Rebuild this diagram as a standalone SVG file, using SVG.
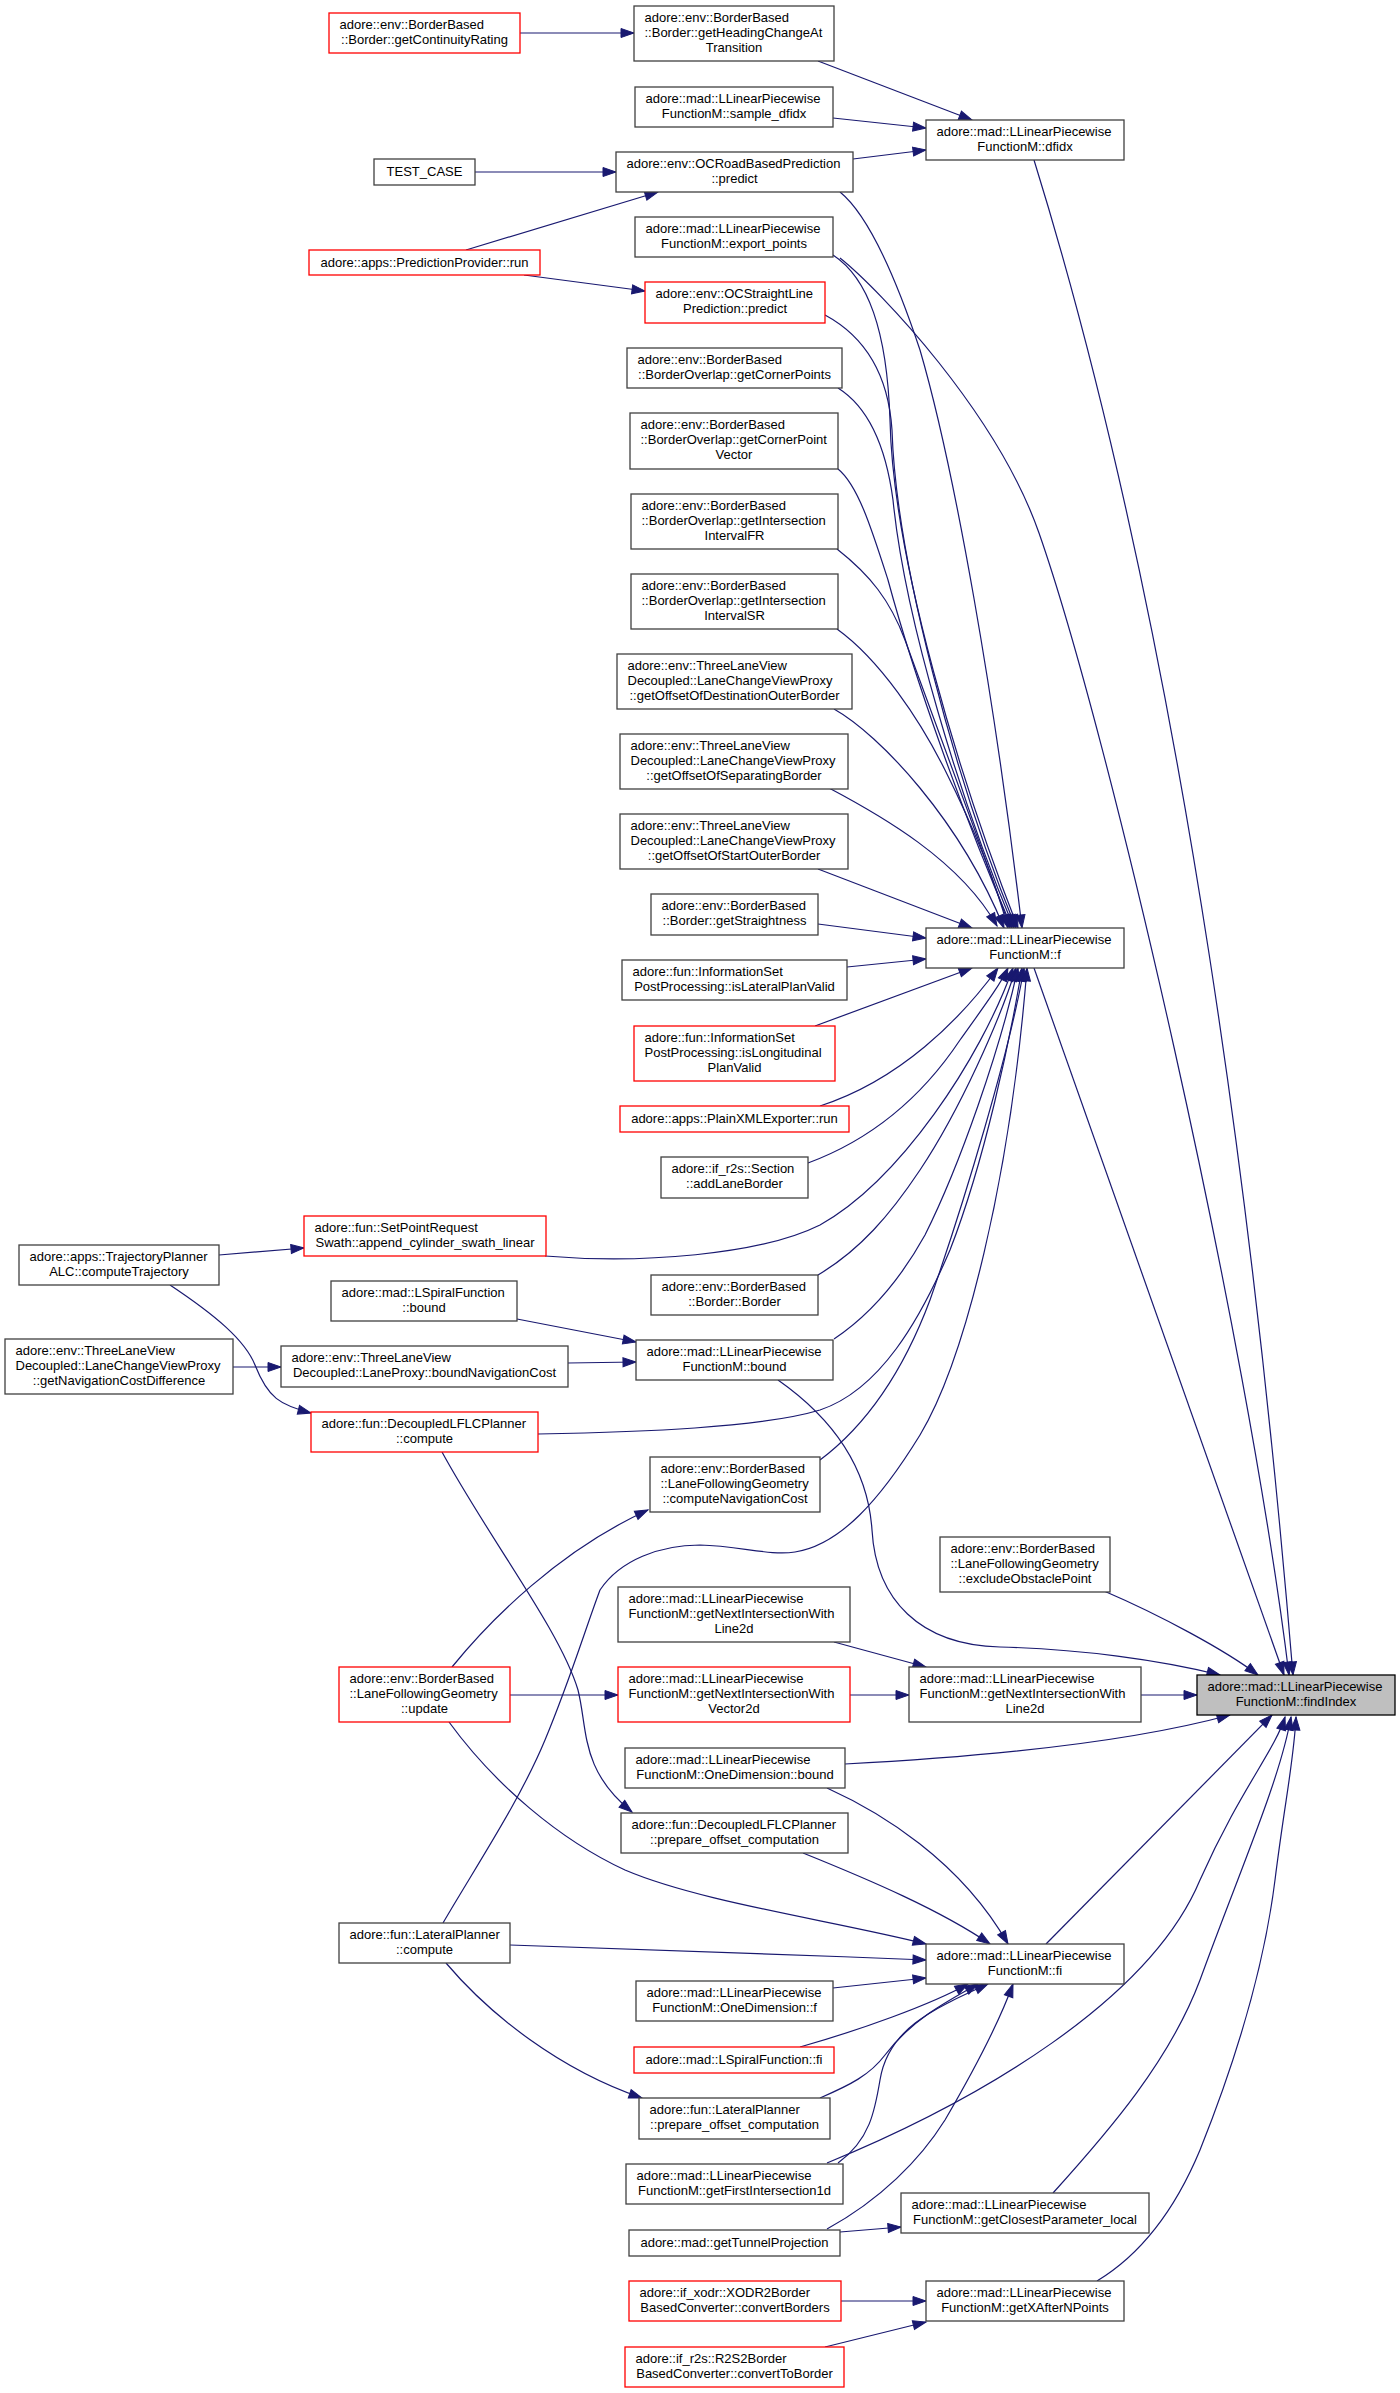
<svg xmlns="http://www.w3.org/2000/svg" width="1400" height="2393" viewBox="0 0 1400 2393">
<style>
.n rect{fill:#fff;stroke:#404040;stroke-width:1.3}
.r rect{fill:#fff;stroke:#ff0000;stroke-width:1.3}
.g rect{fill:#bfbfbf;stroke:#000;stroke-width:1.3}
text{font-family:"Liberation Sans",Arial,sans-serif;font-size:13px;fill:#000}
.c{text-anchor:middle}
#edges path{fill:none;stroke:#191970;stroke-width:1.2;marker-end:url(#arr)}
</style>
<defs>
<marker id="arr" markerUnits="userSpaceOnUse" markerWidth="14" markerHeight="10" refX="13" refY="5" orient="auto" overflow="visible">
<path d="M0,0.5 L13,5 L0,9.5 z" fill="#191970" stroke="#191970" stroke-width="1"/>
</marker>
</defs>
<rect width="1400" height="2393" fill="#fff"/>
<g id="edges">
<path d="M520,33 L634,33"/>
<path d="M818,61 L972,120"/>
<path d="M833,118 L926,128"/>
<path d="M853,159 L926,150"/>
<path d="M475,172 L616,172"/>
<path d="M466,250 L658,192"/>
<path d="M524,275 L645,291"/>
<path d="M1034,160 C1189,660 1260,1275 1293,1675"/>
<path d="M840,258 C880,290 997,413 1039,533 C1109,733 1246,1325 1289,1675"/>
<path d="M1034,968 L1284,1675"/>
<path d="M778,1380 C835,1420 868,1470 872,1530 C876,1600 920,1645 1000,1647 C1080,1649 1160,1660 1220,1675"/>
<path d="M1104,1591 C1160,1615 1225,1650 1258,1675"/>
<path d="M834,1642 L926,1667"/>
<path d="M850,1695 L909,1695"/>
<path d="M510,1695 L618,1695"/>
<path d="M1141,1695 L1197,1695"/>
<path d="M845,1764 C960,1758 1120,1745 1230,1715"/>
<path d="M827,1788 C880,1812 960,1860 1008,1944"/>
<path d="M803,1853 C870,1880 940,1910 990,1944"/>
<path d="M510,1945 C700,1951 800,1955 926,1960"/>
<path d="M449,1722 C495,1785 560,1840 625,1870 C700,1902 830,1920 926,1944"/>
<path d="M442,1452 C490,1540 560,1630 578,1690 C588,1730 580,1770 632,1812"/>
<path d="M219,1255 L304,1248"/>
<path d="M170,1285 C215,1315 245,1340 255,1365 C268,1398 280,1405 311,1413"/>
<path d="M233,1367 L281,1367"/>
<path d="M568,1363 L636,1362"/>
<path d="M517,1319 L636,1342"/>
<path d="M452,1667 C490,1620 560,1550 648,1510"/>
<path d="M446,1963 C490,2015 560,2070 642,2098"/>
<path d="M833,1988 L926,1978"/>
<path d="M800,2047 C860,2030 930,2005 968,1984"/>
<path d="M820,2098 C850,2085 870,2075 885,2055 C910,2022 940,2005 978,1984"/>
<path d="M838,2163 C870,2140 875,2110 880,2080 C888,2030 930,2010 988,1984"/>
<path d="M827,2163 C980,2100 1150,2000 1200,1880 C1240,1790 1275,1750 1285,1717"/>
<path d="M1053,2193 C1110,2130 1170,2060 1200,1980 C1240,1870 1280,1780 1291,1717"/>
<path d="M1097,2281 C1140,2255 1175,2210 1200,2150 C1240,2050 1265,1960 1275,1880 C1285,1800 1294,1760 1296,1717"/>
<path d="M1046,1944 L1272,1715"/>
<path d="M827,2229 C880,2200 920,2160 945,2120 C980,2060 1000,2020 1013,1984"/>
<path d="M840,2232 L901,2227"/>
<path d="M841,2301 L926,2301"/>
<path d="M825,2347 L926,2322"/>
<path d="M840,192 C872,218 900,290 920,350 C955,470 995,700 1022,928"/>
<path d="M833,255 C868,278 887,330 890,420 C893,560 960,780 1018,928"/>
<path d="M825,315 C862,335 888,370 892,430 C896,560 955,780 1016,928"/>
<path d="M838,388 C865,405 885,440 893,500 C905,620 960,800 1014,928"/>
<path d="M838,469 C858,485 872,530 888,580 C915,680 965,820 1012,928"/>
<path d="M837,549 C870,575 890,600 905,640 C935,720 975,830 1010,928"/>
<path d="M837,629 C880,660 920,720 945,770 C975,830 995,880 1008,928"/>
<path d="M834,709 C880,735 960,820 1004,928"/>
<path d="M829,788 C880,815 960,860 997,926"/>
<path d="M818,869 L972,928"/>
<path d="M818,924 L926,938"/>
<path d="M847,967 L926,959"/>
<path d="M815,1026 L972,968"/>
<path d="M820,1106 C900,1080 960,1020 998,968"/>
<path d="M808,1163 C870,1140 920,1100 960,1040 C985,1005 1000,985 1008,968"/>
<path d="M545,1256 C640,1264 760,1255 820,1225 C900,1180 980,1060 1013,968"/>
<path d="M818,1275 C860,1250 890,1215 920,1170 C960,1110 1000,1020 1016,968"/>
<path d="M834,1339 C870,1315 900,1280 925,1235 C960,1165 1000,1050 1018,968"/>
<path d="M538,1434 C640,1432 760,1428 820,1410 C880,1390 920,1320 950,1250 C985,1160 1010,1040 1022,968"/>
<path d="M820,1460 C860,1430 900,1380 930,1300 C965,1200 1010,1050 1024,968"/>
<path d="M443,1923 C480,1860 520,1800 545,1740 C570,1680 585,1630 600,1590 C620,1560 660,1545 700,1545 C740,1546 770,1556 795,1552 C840,1545 880,1500 920,1435 C965,1360 1010,1180 1027,968"/>
</g>
<g id="findIndex" class="g"><rect x="1197" y="1675" width="198" height="40"/><text x="1207.5" y="1691">adore::mad::LLinearPiecewise</text><text class="c" x="1296" y="1706">FunctionM::findIndex</text></g>
<g id="dfidx" class="n"><rect x="926" y="120" width="198" height="40"/><text x="936.5" y="136">adore::mad::LLinearPiecewise</text><text class="c" x="1025" y="151">FunctionM::dfidx</text></g>
<g id="f" class="n"><rect x="926" y="928" width="198" height="40"/><text x="936.5" y="944">adore::mad::LLinearPiecewise</text><text class="c" x="1025" y="959">FunctionM::f</text></g>
<g id="getNextIntersectionWithLine2dB" class="n"><rect x="909" y="1667" width="232" height="55"/><text x="919.5" y="1683">adore::mad::LLinearPiecewise</text><text x="919.5" y="1698">FunctionM::getNextIntersectionWith</text><text class="c" x="1025" y="1713">Line2d</text></g>
<g id="fi" class="n"><rect x="926" y="1944" width="198" height="40"/><text x="936.5" y="1960">adore::mad::LLinearPiecewise</text><text class="c" x="1025" y="1975">FunctionM::fi</text></g>
<g id="getClosestParameter_local" class="n"><rect x="901" y="2193" width="248" height="40"/><text x="911.5" y="2209">adore::mad::LLinearPiecewise</text><text class="c" x="1025" y="2224">FunctionM::getClosestParameter_local</text></g>
<g id="getXAfterNPoints" class="n"><rect x="926" y="2281" width="198" height="40"/><text x="936.5" y="2297">adore::mad::LLinearPiecewise</text><text class="c" x="1025" y="2312">FunctionM::getXAfterNPoints</text></g>
<g id="excludeObstaclePoint" class="n"><rect x="940" y="1537" width="170" height="55"/><text x="950.5" y="1553">adore::env::BorderBased</text><text x="950.5" y="1568">::LaneFollowingGeometry</text><text class="c" x="1025" y="1583">::excludeObstaclePoint</text></g>
<g id="getHeadingChangeAtTransition" class="n"><rect x="634" y="6" width="200" height="55"/><text x="644.5" y="22">adore::env::BorderBased</text><text x="644.5" y="37">::Border::getHeadingChangeAt</text><text class="c" x="734" y="52">Transition</text></g>
<g id="sample_dfidx" class="n"><rect x="635" y="87" width="198" height="40"/><text x="645.5" y="103">adore::mad::LLinearPiecewise</text><text class="c" x="734" y="118">FunctionM::sample_dfidx</text></g>
<g id="OCRoadBasedPrediction" class="n"><rect x="616" y="152" width="237" height="40"/><text x="626.5" y="168">adore::env::OCRoadBasedPrediction</text><text class="c" x="734.5" y="183">::predict</text></g>
<g id="export_points" class="n"><rect x="635" y="217" width="198" height="40"/><text x="645.5" y="233">adore::mad::LLinearPiecewise</text><text class="c" x="734" y="248">FunctionM::export_points</text></g>
<g id="OCStraightLinePrediction" class="r"><rect x="645" y="282" width="180" height="41"/><text x="655.5" y="298">adore::env::OCStraightLine</text><text class="c" x="735" y="313">Prediction::predict</text></g>
<g id="getCornerPoints" class="n"><rect x="627" y="348" width="215" height="40"/><text x="637.5" y="364">adore::env::BorderBased</text><text class="c" x="734.5" y="379">::BorderOverlap::getCornerPoints</text></g>
<g id="getCornerPointVector" class="n"><rect x="630" y="413" width="208" height="56"/><text x="640.5" y="429">adore::env::BorderBased</text><text x="640.5" y="444">::BorderOverlap::getCornerPoint</text><text class="c" x="734" y="459">Vector</text></g>
<g id="getIntersectionIntervalFR" class="n"><rect x="631" y="494" width="207" height="55"/><text x="641.5" y="510">adore::env::BorderBased</text><text x="641.5" y="525">::BorderOverlap::getIntersection</text><text class="c" x="734.5" y="540">IntervalFR</text></g>
<g id="getIntersectionIntervalSR" class="n"><rect x="631" y="574" width="207" height="55"/><text x="641.5" y="590">adore::env::BorderBased</text><text x="641.5" y="605">::BorderOverlap::getIntersection</text><text class="c" x="734.5" y="620">IntervalSR</text></g>
<g id="getOffsetOfDestinationOuterBorder" class="n"><rect x="617" y="654" width="235" height="55"/><text x="627.5" y="670">adore::env::ThreeLaneView</text><text x="627.5" y="685">Decoupled::LaneChangeViewProxy</text><text class="c" x="734.5" y="700">::getOffsetOfDestinationOuterBorder</text></g>
<g id="getOffsetOfSeparatingBorder" class="n"><rect x="620" y="734" width="228" height="55"/><text x="630.5" y="750">adore::env::ThreeLaneView</text><text x="630.5" y="765">Decoupled::LaneChangeViewProxy</text><text class="c" x="734" y="780">::getOffsetOfSeparatingBorder</text></g>
<g id="getOffsetOfStartOuterBorder" class="n"><rect x="620" y="814" width="228" height="55"/><text x="630.5" y="830">adore::env::ThreeLaneView</text><text x="630.5" y="845">Decoupled::LaneChangeViewProxy</text><text class="c" x="734" y="860">::getOffsetOfStartOuterBorder</text></g>
<g id="getStraightness" class="n"><rect x="651" y="894" width="167" height="41"/><text x="661.5" y="910">adore::env::BorderBased</text><text class="c" x="734.5" y="925">::Border::getStraightness</text></g>
<g id="isLateralPlanValid" class="n"><rect x="622" y="960" width="225" height="40"/><text x="632.5" y="976">adore::fun::InformationSet</text><text class="c" x="734.5" y="991">PostProcessing::isLateralPlanValid</text></g>
<g id="isLongitudinalPlanValid" class="r"><rect x="634" y="1026" width="201" height="55"/><text x="644.5" y="1042">adore::fun::InformationSet</text><text x="644.5" y="1057">PostProcessing::isLongitudinal</text><text class="c" x="734.5" y="1072">PlanValid</text></g>
<g id="PlainXMLExporter_run" class="r"><rect x="620" y="1106" width="229" height="26"/><text class="c" x="734.5" y="1123">adore::apps::PlainXMLExporter::run</text></g>
<g id="addLaneBorder" class="n"><rect x="661" y="1157" width="147" height="41"/><text x="671.5" y="1173">adore::if_r2s::Section</text><text class="c" x="734.5" y="1188">::addLaneBorder</text></g>
<g id="Border_Border" class="n"><rect x="651" y="1275" width="167" height="40"/><text x="661.5" y="1291">adore::env::BorderBased</text><text class="c" x="734.5" y="1306">::Border::Border</text></g>
<g id="LLPF_bound" class="n"><rect x="636" y="1340" width="197" height="40"/><text x="646.5" y="1356">adore::mad::LLinearPiecewise</text><text class="c" x="734.5" y="1371">FunctionM::bound</text></g>
<g id="computeNavigationCost" class="n"><rect x="650" y="1457" width="170" height="55"/><text x="660.5" y="1473">adore::env::BorderBased</text><text x="660.5" y="1488">::LaneFollowingGeometry</text><text class="c" x="735" y="1503">::computeNavigationCost</text></g>
<g id="getNextIntersectionWithLine2dA" class="n"><rect x="618" y="1587" width="232" height="55"/><text x="628.5" y="1603">adore::mad::LLinearPiecewise</text><text x="628.5" y="1618">FunctionM::getNextIntersectionWith</text><text class="c" x="734" y="1633">Line2d</text></g>
<g id="getNextIntersectionWithVector2d" class="r"><rect x="618" y="1667" width="232" height="55"/><text x="628.5" y="1683">adore::mad::LLinearPiecewise</text><text x="628.5" y="1698">FunctionM::getNextIntersectionWith</text><text class="c" x="734" y="1713">Vector2d</text></g>
<g id="OneDimension_bound" class="n"><rect x="625" y="1748" width="220" height="40"/><text x="635.5" y="1764">adore::mad::LLinearPiecewise</text><text class="c" x="735" y="1779">FunctionM::OneDimension::bound</text></g>
<g id="DecoupledLFLCPlanner_prepare" class="n"><rect x="621" y="1813" width="227" height="40"/><text x="631.5" y="1829">adore::fun::DecoupledLFLCPlanner</text><text class="c" x="734.5" y="1844">::prepare_offset_computation</text></g>
<g id="OneDimension_f" class="n"><rect x="636" y="1981" width="197" height="40"/><text x="646.5" y="1997">adore::mad::LLinearPiecewise</text><text class="c" x="734.5" y="2012">FunctionM::OneDimension::f</text></g>
<g id="LSpiralFunction_fi" class="r"><rect x="634" y="2047" width="200" height="26"/><text class="c" x="734" y="2064">adore::mad::LSpiralFunction::fi</text></g>
<g id="LateralPlanner_prepare" class="n"><rect x="639" y="2098" width="191" height="41"/><text x="649.5" y="2114">adore::fun::LateralPlanner</text><text class="c" x="734.5" y="2129">::prepare_offset_computation</text></g>
<g id="getFirstIntersection1d" class="n"><rect x="626" y="2164" width="217" height="40"/><text x="636.5" y="2180">adore::mad::LLinearPiecewise</text><text class="c" x="734.5" y="2195">FunctionM::getFirstIntersection1d</text></g>
<g id="getTunnelProjection" class="n"><rect x="629" y="2230" width="211" height="26"/><text class="c" x="734.5" y="2247">adore::mad::getTunnelProjection</text></g>
<g id="convertBorders" class="r"><rect x="629" y="2281" width="212" height="40"/><text x="639.5" y="2297">adore::if_xodr::XODR2Border</text><text class="c" x="735" y="2312">BasedConverter::convertBorders</text></g>
<g id="convertToBorder" class="r"><rect x="625" y="2347" width="219" height="40"/><text x="635.5" y="2363">adore::if_r2s::R2S2Border</text><text class="c" x="734.5" y="2378">BasedConverter::convertToBorder</text></g>
<g id="getContinuityRating" class="r"><rect x="329" y="13" width="191" height="40"/><text x="339.5" y="29">adore::env::BorderBased</text><text class="c" x="424.5" y="44">::Border::getContinuityRating</text></g>
<g id="TEST_CASE" class="n"><rect x="374" y="159" width="101" height="26"/><text class="c" x="424.5" y="176">TEST_CASE</text></g>
<g id="PredictionProvider_run" class="r"><rect x="309" y="250" width="231" height="25"/><text class="c" x="424.5" y="267">adore::apps::PredictionProvider::run</text></g>
<g id="append_cylinder_swath_linear" class="r"><rect x="304" y="1216" width="242" height="40"/><text x="314.5" y="1232">adore::fun::SetPointRequest</text><text class="c" x="425" y="1247">Swath::append_cylinder_swath_linear</text></g>
<g id="LSpiralFunction_bound" class="n"><rect x="331" y="1281" width="186" height="40"/><text x="341.5" y="1297">adore::mad::LSpiralFunction</text><text class="c" x="424" y="1312">::bound</text></g>
<g id="boundNavigationCost" class="n"><rect x="281" y="1346" width="287" height="41"/><text x="291.5" y="1362">adore::env::ThreeLaneView</text><text class="c" x="424.5" y="1377">Decoupled::LaneProxy::boundNavigationCost</text></g>
<g id="DecoupledLFLCPlanner_compute" class="r"><rect x="311" y="1412" width="227" height="40"/><text x="321.5" y="1428">adore::fun::DecoupledLFLCPlanner</text><text class="c" x="424.5" y="1443">::compute</text></g>
<g id="LaneFollowingGeometry_update" class="r"><rect x="339" y="1667" width="171" height="55"/><text x="349.5" y="1683">adore::env::BorderBased</text><text x="349.5" y="1698">::LaneFollowingGeometry</text><text class="c" x="424.5" y="1713">::update</text></g>
<g id="LateralPlanner_compute" class="n"><rect x="339" y="1923" width="171" height="40"/><text x="349.5" y="1939">adore::fun::LateralPlanner</text><text class="c" x="424.5" y="1954">::compute</text></g>
<g id="computeTrajectory" class="n"><rect x="19" y="1245" width="200" height="40"/><text x="29.5" y="1261">adore::apps::TrajectoryPlanner</text><text class="c" x="119" y="1276">ALC::computeTrajectory</text></g>
<g id="getNavigationCostDifference" class="n"><rect x="5" y="1339" width="228" height="55"/><text x="15.5" y="1355">adore::env::ThreeLaneView</text><text x="15.5" y="1370">Decoupled::LaneChangeViewProxy</text><text class="c" x="119" y="1385">::getNavigationCostDifference</text></g>
</svg>
